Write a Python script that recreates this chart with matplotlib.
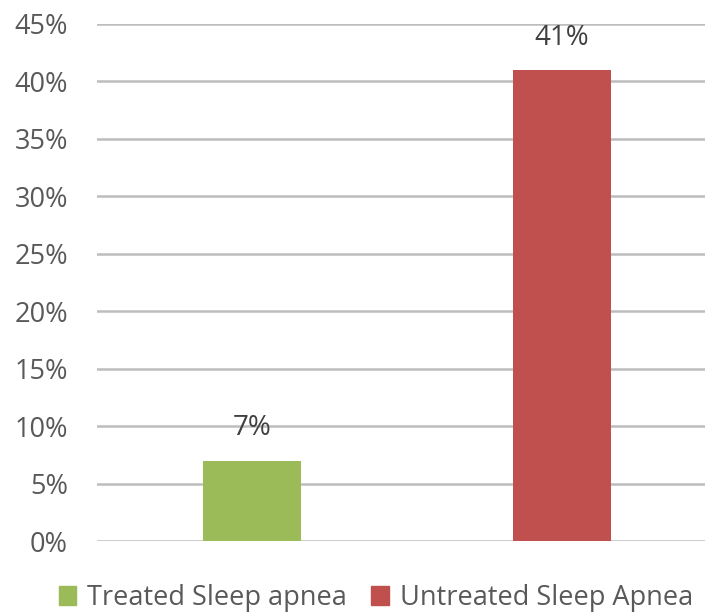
import matplotlib.pyplot as plt
import matplotlib.patches as mpatches
import numpy as np

plt.rcParams['font.family'] = ['Open Sans', 'DejaVu Sans']

groups = ["Treated Sleep apnea", "Untreated Sleep Apnea"]
values = [7, 41]
colors = ["#9BBB59", "#C0504D"]
yticks = np.arange(0, 50, 5)

fig = plt.figure(figsize=(7.05, 6.14), dpi=100)
ax = fig.add_axes([97 / 705, 1 - 541 / 614, (705 - 97) / 705, (541 - 24) / 614])

x = np.arange(len(values))
bars = ax.bar(x, values, width=0.316, color=colors, zorder=3)

# value labels above each bar
for b, v in zip(bars, values):
    ax.text(b.get_x() + b.get_width() / 2, v + 1.6, f"{v}%", ha="center", va="bottom",
            fontsize=20, color="#404040")

ax.set_xlim(-0.5, 1.461)
ax.set_ylim(0, 45)
ax.set_yticks(yticks)
ax.set_yticklabels([f"{t}%" for t in yticks], fontsize=19.5, color="#595959")
ax.set_xticks([])
ax.tick_params(axis="y", length=0, pad=21)
ax.grid(axis="y", color="#BDBDBD", linewidth=1.8, zorder=0)
for s in ax.spines.values():
    s.set_visible(False)

handles = [mpatches.Patch(color=c, label=g) for c, g in zip(colors, groups)]
fig.legend(handles=handles, loc="center", bbox_to_anchor=(0.533, 1 - 598 / 614), ncol=2,
           frameon=False, fontsize=19.5, handlelength=0.65, handleheight=0.65,
           handletextpad=0.4, columnspacing=0.9, labelcolor="#595959")

fig.savefig("out.png", dpi=100)
